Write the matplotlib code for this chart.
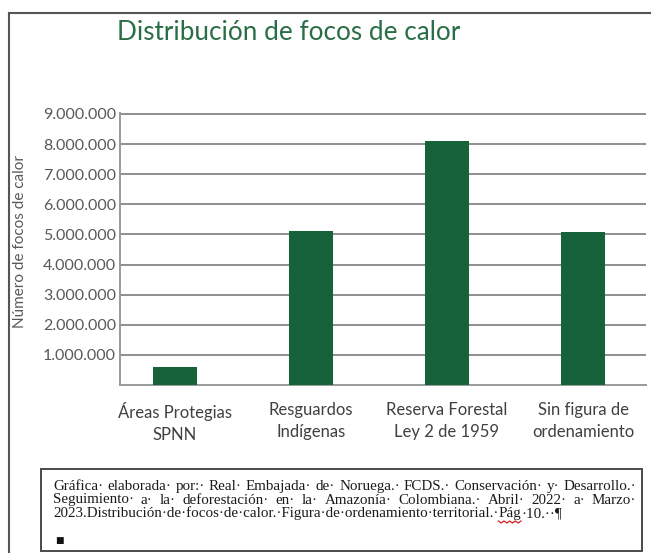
import numpy as np
import matplotlib
matplotlib.use("Agg")
import matplotlib.pyplot as plt
from matplotlib.lines import Line2D
from matplotlib.patches import Rectangle
from matplotlib.ticker import FuncFormatter

# ---- data ----
categories = ["Áreas Protegias\nSPNN", "Resguardos\nIndígenas",
              "Reserva Forestal\nLey 2 de 1959", "Sin figura de\nordenamiento"]
values = [600000, 5110000, 8100000, 5080000]
yticks = [1000000, 2000000, 3000000, 4000000, 5000000,
          6000000, 7000000, 8000000, 9000000]
title = "Distribución de focos de calor"
ylabel = "Número de focos de calor"
caption_lines = [
    "Gráfica· elaborada· por:· Real· Embajada· de· Noruega.· FCDS.· Conservación· y· Desarrollo.·",
    "Seguimiento· a· la· deforestación· en· la· Amazonía· Colombiana.· Abril· 2022· a· Marzo·",
]
caption_last_pre = "2023.Distribución·de·focos·de·calor.·Figura·de·ordenamiento·territorial.·"
caption_last_word = "Pág"
caption_last_post = "·10.··¶"

W, H = 651, 553
SANS = ["Lato", "DejaVu Sans"]
SERIF = ["Liberation Serif", "DejaVu Serif"]

fig = plt.figure(figsize=(W / 100, H / 100), dpi=100)
fig.patch.set_facecolor("white")

def fx(px):
    return px / W

def fy(py):
    return 1 - py / H

# ---- axes ----
ax_left, ax_right, ax_top, ax_bot = 120, 646, 113, 385
ax = fig.add_axes([fx(ax_left), fy(ax_bot), fx(ax_right - ax_left), (ax_bot - ax_top) / H])
x = np.arange(len(categories))
ax.bar(x, values, width=0.32, color="#16623A", zorder=3)
ax.set_xlim(-0.404, 3.463)
ax.set_ylim(0, 9.03e6)
ax.set_yticks(yticks)
ax.yaxis.set_major_formatter(FuncFormatter(lambda v, p: f"{int(v):,}".replace(",", ".")))
ax.set_xticks(x)
ax.set_xticklabels(categories, fontsize=12, color="#404040", family=SANS, linespacing=1.5)
ax.yaxis.grid(True, color="#8E8E8E", lw=1.4)
ax.set_axisbelow(True)
for s in ["top", "right"]:
    ax.spines[s].set_visible(False)
for s in ["left", "bottom"]:
    ax.spines[s].set_color("#9A9A9A")
    ax.spines[s].set_linewidth(1.4)
ax.tick_params(axis="y", length=0, pad=3, labelsize=11.5, labelcolor="#595959")
ax.tick_params(axis="x", length=0, pad=12)
for lab in ax.get_yticklabels():
    lab.set_family(SANS)

# ---- title and y label ----
fig.text(fx(117), fy(33), title, fontsize=18.8, color="#2A6E46", family=SANS,
         ha="left", va="center")
fig.text(fx(20), fy(242), ylabel, fontsize=11, color="#595959", family=SANS,
         rotation=90, ha="center", va="center")

# ---- outer frame ----
fig.add_artist(Line2D([fx(9), fx(9)], [0, fy(13)], transform=fig.transFigure,
                      color="#555555", lw=1.5))
fig.add_artist(Line2D([fx(9), 1], [fy(13), fy(13)], transform=fig.transFigure,
                      color="#555555", lw=1.5))

# ---- caption box ----
fig.add_artist(Rectangle((fx(41), fy(551)), fx(642 - 41), (551 - 469) / H,
                         transform=fig.transFigure, fill=False,
                         edgecolor="#4A4A4A", lw=1.4))

fig.canvas.draw()
renderer = fig.canvas.get_renderer()
cap_fs = 10.8
cap_col = "#1A1A1A"
x0, x1 = 53, 636
base_y = [490, 503.5, 517]
for i, line in enumerate(caption_lines):
    y = fy(base_y[i])
    words = line.split(" ")
    objs, widths = [], []
    for w in words:
        t = fig.text(0, y, w, fontsize=cap_fs, family=SERIF, color=cap_col,
                     ha="left", va="baseline")
        objs.append(t)
        widths.append(t.get_window_extent(renderer).width)
    gap = (x1 - x0 - sum(widths)) / (len(words) - 1)
    cur = x0
    for t, w in zip(objs, widths):
        t.set_x(fx(cur))
        cur += w + gap

# last line (not justified) with spell-check squiggle under "Pág"
y3 = fy(base_y[2])
cur = x0
t = fig.text(fx(cur), y3, caption_last_pre, fontsize=cap_fs, family=SERIF,
             color=cap_col, ha="left", va="baseline")
cur += t.get_window_extent(renderer).width
t = fig.text(fx(cur), y3, caption_last_word, fontsize=cap_fs, family=SERIF,
             color=cap_col, ha="left", va="baseline")
wpag = t.get_window_extent(renderer).width
zx = np.linspace(cur, cur + wpag, 9)
zy = np.where(np.arange(9) % 2 == 0, 521.0, 523.0)
fig.add_artist(Line2D([fx(v) for v in zx], [fy(v) for v in zy],
                      transform=fig.transFigure, color="#D02020", lw=0.9))
cur += wpag
fig.text(fx(cur), y3, caption_last_post, fontsize=cap_fs, family=SERIF,
         color=cap_col, ha="left", va="baseline")

fig.text(fx(55), fy(540), "■", fontsize=6.5, color="#111111", family=["DejaVu Sans"],
         ha="left", va="center")

fig.savefig("out.png", dpi=100)
